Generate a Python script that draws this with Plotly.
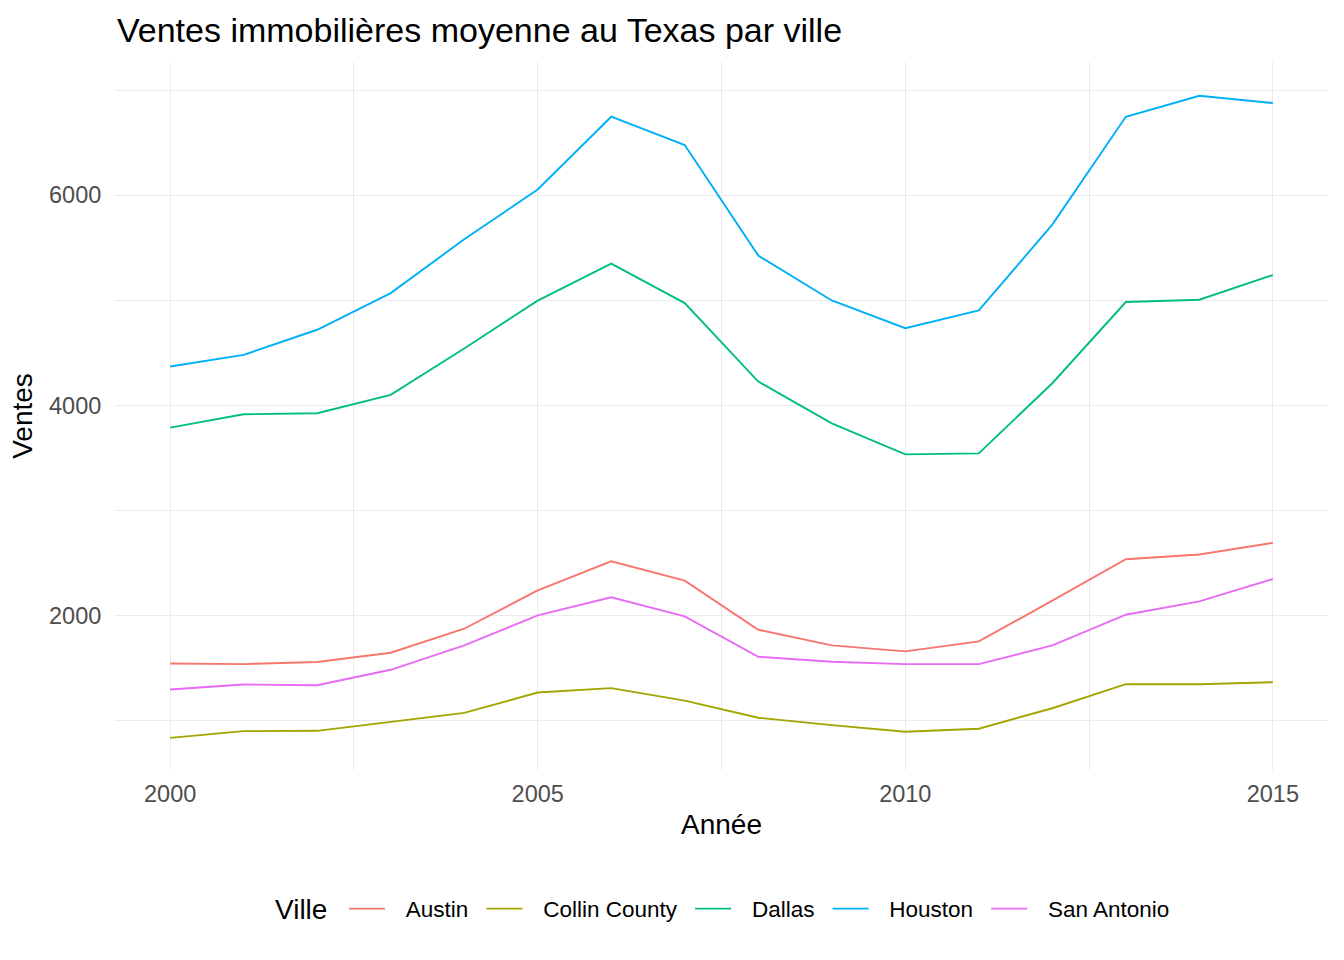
import plotly.graph_objects as go

years = list(range(2000, 2016))
austin = [1542, 1536, 1556, 1644, 1873, 2238, 2515, 2331, 1863, 1714, 1657, 1752, 2140, 2534, 2579, 2690]
collin = [834, 898, 901, 987, 1072, 1266, 1307, 1189, 1025, 955, 892, 921, 1116, 1345, 1345, 1364]
dallas = [3787, 3914, 3924, 4099, 4541, 4996, 5349, 4973, 4226, 3828, 3533, 3542, 4210, 4983, 5005, 5240]
houston = [4369, 4480, 4719, 5068, 5580, 6054, 6747, 6477, 5425, 4998, 4734, 4903, 5720, 6747, 6947, 6877]
san_antonio = [1294, 1342, 1335, 1482, 1714, 2000, 2172, 1990, 1606, 1558, 1536, 1536, 1714, 2006, 2133, 2346]

series = [
    ("Austin", austin, "#F8766D"),
    ("Collin County", collin, "#A3A500"),
    ("Dallas", dallas, "#00BF7D"),
    ("Houston", houston, "#00B0F6"),
    ("San Antonio", san_antonio, "#E76BF3"),
]

FONT = "Liberation Sans, Arial, sans-serif"
LEAD = "\u2002\u2009"
TRAIL = "\u00a0\u200a"

fig = go.Figure()
for name, vals, col in series:
    fig.add_trace(go.Scatter(x=years, y=vals, mode="lines", name=LEAD + name + TRAIL,
                             line=dict(color=col, width=1.9)))

fig.update_layout(
    width=1344, height=960,
    paper_bgcolor="white", plot_bgcolor="white",
    margin=dict(l=115, r=16, t=62, b=190),
    font=dict(family=FONT, color="black"),
    title=dict(text="Ventes immobilières moyenne au Texas par ville",
               x=117/1344, xref="container", xanchor="left",
               y=1-30/960, yref="container", yanchor="middle",
               font=dict(size=34, color="black")),
    legend=dict(orientation="h", x=344/1344, xanchor="left", xref="container",
                y=1-909/960, yref="container", yanchor="middle", itemwidth=36,
                font=dict(size=22.5, color="black")),
    showlegend=True,
    annotations=[dict(text="Ville", xref="paper", yref="paper",
                      x=(273-115)/1213, y=-(909-770)/708,
                      xanchor="left", yanchor="middle", showarrow=False,
                      font=dict(size=28, color="black"))],
)

fig.update_xaxes(range=[1999.25, 2015.75], tickvals=[2000, 2005, 2010, 2015],
                 showgrid=True, gridcolor="#EBEBEB", gridwidth=1.3,
                 minor=dict(tickvals=[2002.5, 2007.5, 2012.5], showgrid=True,
                            gridcolor="#EBEBEB", gridwidth=0.7),
                 zeroline=False, showline=False,
                 ticks="outside", ticklen=3, tickcolor="rgba(0,0,0,0)",
                 tickfont=dict(size=23.5, color="#4D4D4D"),
                 title=dict(text="Année", font=dict(size=28, color="black"), standoff=8))
fig.update_yaxes(range=[528, 7268], tickvals=[2000, 4000, 6000],
                 showgrid=True, gridcolor="#EBEBEB", gridwidth=1.3,
                 minor=dict(tickvals=[1000, 3000, 5000, 7000], showgrid=True,
                            gridcolor="#EBEBEB", gridwidth=0.7),
                 zeroline=False, showline=False,
                 ticks="outside", ticklen=8, tickcolor="rgba(0,0,0,0)",
                 tickfont=dict(size=23.5, color="#4D4D4D"),
                 title=dict(text="Ventes", font=dict(size=28, color="black"), standoff=8))

fig.write_html("out.html")
